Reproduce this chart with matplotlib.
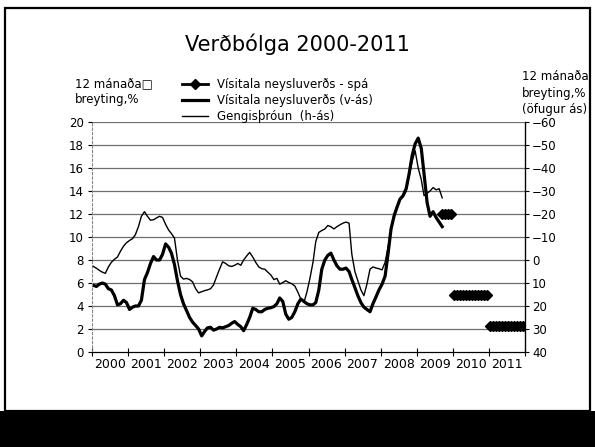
import matplotlib
matplotlib.use("Agg")
import matplotlib.pyplot as plt
import matplotlib.dates as mdates
from matplotlib.patches import Rectangle
import numpy as np
import pandas as pd

# Vísitala neysluverðs, 12 mánaða breyting (%), jan 2000 - sep 2009 (vinstri ás)
visitala = [
    5.8, 5.7, 5.9, 6.0, 5.9, 5.5, 5.4, 4.9, 4.1, 4.2, 4.5, 4.3,
    3.7, 3.9, 4.0, 4.0, 4.5, 6.3, 6.9, 7.7, 8.3, 8.0, 8.0, 8.5,
    9.4, 9.1, 8.6, 7.6, 6.2, 5.0, 4.2, 3.6, 3.0, 2.6, 2.3, 2.0,
    1.4, 1.8, 2.1, 2.15, 1.9, 2.0, 2.15, 2.1, 2.2, 2.3, 2.5, 2.65,
    2.4, 2.2, 1.85, 2.4, 3.0, 3.8, 3.7, 3.5, 3.5, 3.7, 3.8, 3.85,
    3.95, 4.2, 4.7, 4.4, 3.3, 2.85, 3.0, 3.5, 4.2, 4.6, 4.4, 4.2,
    4.1, 4.1, 4.3, 5.4, 7.2, 8.0, 8.4, 8.6, 8.0, 7.5, 7.2, 7.2,
    7.3, 7.0, 6.3, 5.6, 4.9, 4.3, 3.9, 3.7, 3.5, 4.2, 4.8, 5.4,
    5.9, 6.6, 8.5, 10.7, 11.8, 12.6, 13.3, 13.6, 14.2, 15.5, 17.1, 18.1,
    18.6, 17.7, 15.5, 13.0, 11.8, 12.2, 11.7, 11.3, 10.9,
]

# Gengisþróun, 12 mánaða breyting (%), jan 2000 - sep 2009 (hægri ás, öfugur)
gengi = [
    2.8, 3.6, 4.5, 5.3, 5.8, 3.0, 1.0, -0.3, -1.3, -3.8, -6.0, -7.5,
    -8.5, -9.3, -11.0, -14.5, -19.0, -21.0, -19.0, -17.3, -17.5, -18.3, -19.0, -18.5,
    -15.5, -13.0, -11.5, -9.5, 0.0, 7.0, 8.3, 8.0, 8.5, 9.5, 12.5, 14.3,
    13.8, 13.3, 13.0, 12.5, 10.8, 7.3, 4.0, 0.8, 1.5, 2.5, 2.8, 2.3,
    1.5, 2.3, 0.0, -1.8, -3.3, -1.3, 1.0, 3.0, 3.8, 4.0, 5.3, 6.5,
    8.5, 8.0, 10.5, 9.8, 9.0, 9.8, 10.3, 11.3, 14.0, 17.0, 18.5, 14.0,
    8.0, 1.0, -8.0, -12.0, -12.8, -13.5, -15.0, -14.5, -13.5, -14.5, -15.3, -16.0,
    -16.5, -16.0, -2.5, 5.0, 9.0, 13.0, 15.5, 10.5, 4.0, 3.0, 3.5, 3.8,
    4.3, 1.0, -5.5, -13.0, -20.0, -23.5, -26.0, -27.5, -30.0, -36.5, -43.0, -47.5,
    -40.0, -35.0, -28.0, -29.0, -30.0, -31.5, -30.5, -31.0, -27.0,
]

# Spá um vísitölu neysluverðs
spa_start = ["2009-09", "2010-01", "2011-01"]
spa_months = [4, 12, 12]
spa_values = [12.0, 5.0, 2.3]

left_ticks = list(range(0, 21, 2))
right_ticks = list(range(-60, 41, 10))

dates = pd.date_range("2000-01-01", periods=len(visitala), freq="MS") + pd.Timedelta(days=14)

fig = plt.figure(figsize=(5.95, 4.47), dpi=100)
fig.patch.set_facecolor("white")

# frame and black band of the scanned slide
fig.patches.append(Rectangle((5 / 595, 36 / 447), 585 / 595, 403 / 447, transform=fig.transFigure,
                             fill=False, edgecolor="black", linewidth=1.6))
fig.patches.append(Rectangle((0, 0), 1, 36 / 447, transform=fig.transFigure,
                             facecolor="black", edgecolor="none"))

ax = fig.add_axes([92 / 595, 1 - 352 / 447, 433 / 595, 230 / 447])
ax2 = ax.twinx()

for v in left_ticks[1:]:
    ax.axhline(v, color="#6f6f6f", lw=0.9, zorder=0)

(h_cpi,) = ax.plot(dates, visitala, color="black", lw=2.3, solid_joinstyle="round")
(h_gengi,) = ax2.plot(dates, gengi, color="black", lw=1.0)

h_spa = None
for start, n, val in zip(spa_start, spa_months, spa_values):
    d = pd.date_range(start + "-01", periods=n, freq="MS") + pd.Timedelta(days=14)
    (h_spa,) = ax.plot(d, [val] * n, color="black", lw=2, marker="D", markersize=4.8)

ax.set_ylim(0, 20)
ax.set_yticks(left_ticks)
ax2.set_ylim(40, -60)
ax2.set_yticks(right_ticks)
ax.set_xlim(pd.Timestamp("2000-01-01"), pd.Timestamp("2012-01-01"))

ax.xaxis.set_major_locator(mdates.YearLocator())
ax.xaxis.set_major_formatter(plt.NullFormatter())
ax.xaxis.set_minor_locator(mdates.MonthLocator(bymonth=7, bymonthday=1))
ax.xaxis.set_minor_formatter(mdates.DateFormatter("%Y"))
ax.tick_params(axis="x", which="major", direction="inout", length=6, width=0.8)
ax.tick_params(axis="x", which="minor", length=0, labelsize=9, pad=4)
ax.tick_params(axis="y", direction="out", length=3, labelsize=8.5, pad=3)
ax2.tick_params(axis="y", direction="out", length=3, labelsize=8.5, pad=2)

for a in (ax, ax2):
    a.spines["top"].set_visible(False)
ax.spines["left"].set_color("#888888")
ax.spines["left"].set_linestyle((0, (2, 2)))
ax.spines["left"].set_linewidth(0.8)
ax2.spines["left"].set_visible(False)
ax2.spines["right"].set_linewidth(0.9)
ax.spines["bottom"].set_linewidth(0.8)

fig.text(0.5, 1 - 44 / 447, "Verðbólga 2000-2011", ha="center", va="center", fontsize=15)
fig.text(75 / 595, 1 - 92 / 447, "12 mánaða□\nbreyting,%", ha="left", va="center",
         fontsize=8.5, linespacing=1.3)
fig.text(522 / 595, 1 - 93 / 447, "12 mánaða\nbreyting,%\n(öfugur ás)", ha="left", va="center",
         fontsize=8.5, linespacing=1.3)

fig.legend([h_spa, h_cpi, h_gengi],
           ["Vísitala neysluverðs - spá", "Vísitala neysluverðs (v-ás)", "Gengisþróun  (h-ás)"],
           loc="upper left", bbox_to_anchor=(182 / 595, 1 - 78 / 447), frameon=False,
           fontsize=8.5, handlelength=2.2, handletextpad=0.8, labelspacing=0.25,
           borderaxespad=0, borderpad=0)

fig.savefig("out.png", dpi=100, facecolor="white")
